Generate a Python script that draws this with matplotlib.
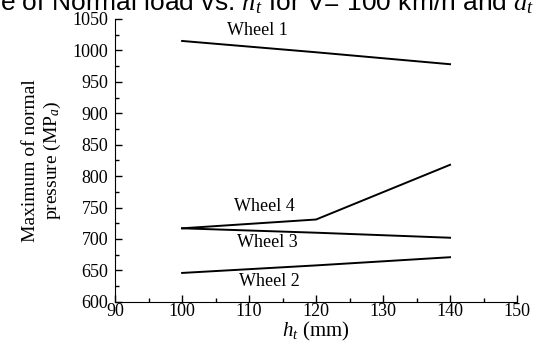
import matplotlib
matplotlib.use("Agg")
import matplotlib.pyplot as plt
from matplotlib.ticker import MultipleLocator

plt.rcParams['font.family'] = ['Liberation Serif', 'DejaVu Serif']
plt.rcParams['mathtext.fontset'] = 'custom'
plt.rcParams['mathtext.rm'] = 'Liberation Serif'
plt.rcParams['mathtext.it'] = 'Liberation Serif:italic'

# data
h_t = [100, 120, 140]
wheel1 = [1015, 997, 978]
wheel2 = [646, 658, 671]
wheel3 = [717, 710, 702]
wheel4 = [717, 731, 818]

labels = ["Wheel 1", "Wheel 2", "Wheel 3", "Wheel 4"]
label_x = [111.3, 113.0, 112.7, 112.3]
label_y = [1032, 633, 694, 751]

fig = plt.figure(figsize=(5.38, 3.51), dpi=100)
ax = fig.add_axes([0.214, 0.14, 0.747, 0.806])

for ys in (wheel1, wheel2, wheel3, wheel4):
    ax.plot(h_t, ys, color="black", lw=1.4)

for lab, x, y in zip(labels, label_x, label_y):
    ax.text(x, y, lab, ha="center", va="center", fontsize=13)

ax.set_xlim(90, 150)
ax.set_ylim(600, 1050)
ax.xaxis.set_major_locator(MultipleLocator(10))
ax.xaxis.set_minor_locator(MultipleLocator(5))
ax.yaxis.set_major_locator(MultipleLocator(50))
ax.yaxis.set_minor_locator(MultipleLocator(25))
ax.tick_params(which="both", direction="in", labelsize=13, width=1)
ax.tick_params(which="major", length=5)
ax.tick_params(which="minor", length=3)
ax.tick_params(axis="x", pad=1)
ax.tick_params(axis="y", pad=5)
ax.spines["top"].set_visible(False)
ax.spines["right"].set_visible(False)

ax.set_xlabel("$h_t$ (mm)", fontsize=15, labelpad=0)
ax.set_ylabel("Maximum of normal\npressure (MP$_a$)", fontsize=14)
ax.yaxis.set_label_coords(-0.13, 0.5)

# title cut off at the top of the original image
fig.text(0.0, 0.9715, "e of Normal load vs. $h_t$ for V= 100 km/h and $a_t$",
         ha="left", va="baseline", fontsize=19, family="Liberation Sans")

fig.savefig("out.png", dpi=100)
